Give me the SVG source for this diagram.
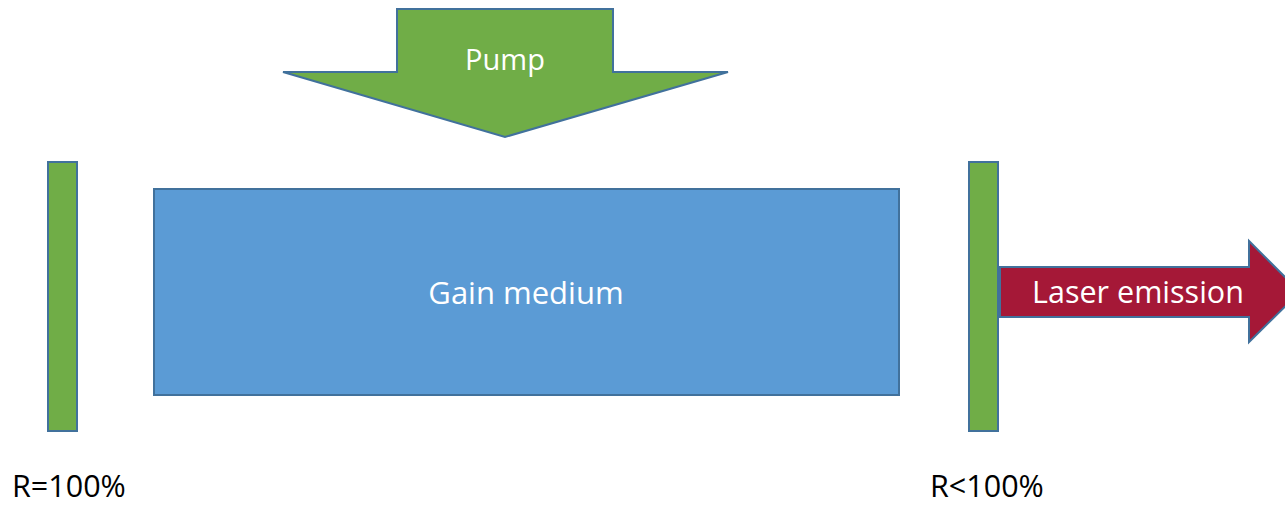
<svg xmlns="http://www.w3.org/2000/svg" width="1285" height="505" viewBox="0 0 1285 505">
  <style>
    .shape { stroke: #41719C; stroke-width: 2; stroke-linejoin: miter; }
    .green { fill: #70AD47; }
    .blue { fill: #5B9BD5; }
    .red { fill: #A51837; }
    .inner { fill: #FFFFFF; font-family: "Open Sans", "Liberation Sans", sans-serif; text-anchor: middle; }
    .label { fill: #000000; font-family: "Open Sans", "Liberation Sans", sans-serif; font-size: 30.5px; }
  </style>
  <rect width="1285" height="505" fill="#FFFFFF"/>

  <!-- pump arrow pointing down onto the gain medium -->
  <g id="pump">
    <polygon class="shape green" points="397,9 613,9 613,72 728,72 505,137 283,72 397,72"/>
    <text class="inner" x="505" y="70" font-size="29">Pump</text>
  </g>

  <!-- rear mirror -->
  <g id="mirror-left">
    <rect class="shape green" x="48" y="162" width="29" height="269"/>
    <text class="label" x="12" y="497">R=100%</text>
  </g>

  <!-- gain medium -->
  <g id="gain-medium">
    <rect class="shape blue" x="154" y="189" width="745" height="206"/>
    <text class="inner" x="526" y="304" font-size="31">Gain medium</text>
  </g>

  <!-- output coupler -->
  <g id="mirror-right">
    <rect class="shape green" x="969" y="162" width="29" height="269"/>
    <text class="label" x="930" y="497">R&lt;100%</text>
  </g>

  <!-- output beam -->
  <g id="connectors">
    <g id="laser-emission">
      <polygon class="shape red" points="1000,267 1249,267 1249,241 1300,292 1249,342 1249,317 1000,317"/>
      <text class="inner" x="1138" y="303" font-size="30.5">Laser emission</text>
    </g>
  </g>
</svg>
